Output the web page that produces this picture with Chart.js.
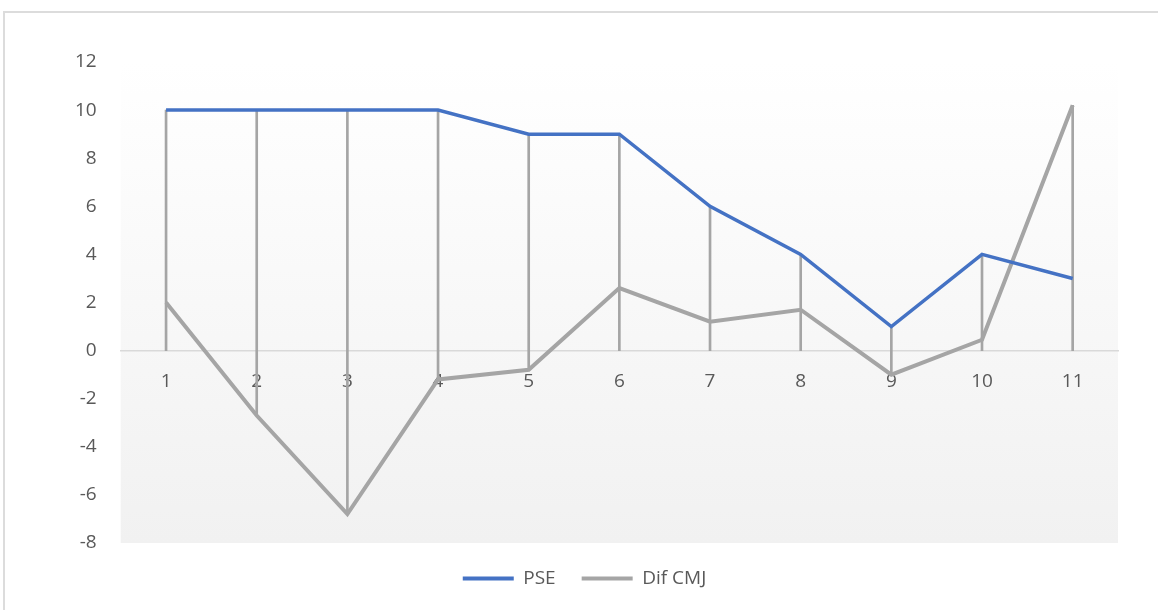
<!DOCTYPE html>
<html>
<head>
<meta charset="utf-8">
<script src="https://cdn.jsdelivr.net/npm/chart.js@4/dist/chart.umd.min.js"></script>
<style>
    html, body { margin: 0; padding: 0; background: #ffffff; overflow: hidden; }
    #frame {
        position: absolute; left: 3px; top: 11px;
        width: 1200px; height: 700px;
        border: 2px solid #dcdcdc; box-sizing: border-box;
    }
    #wrap { position: absolute; left: 0; top: 0; width: 1158px; height: 610px; }
</style>
</head>
<body>
<div id="frame"></div>
<div id="wrap"><canvas id="chart" width="1158" height="610"></canvas></div>
<script>
// Données
const categories = ['1', '2', '3', '4', '5', '6', '7', '8', '9', '10', '11'];
const pse = [10, 10, 10, 10, 9, 9, 6, 4, 1, 4, 3];
const difCmj = [2, -2.7, -6.8, -1.2, -0.8, 2.6, 1.2, 1.7, -1, 0.45, 10.2];
const yTicks = { min: -8, max: 12, step: 2 };

const FONT = "'Open Sans', sans-serif";
const TEXT_COLOR = '#595959';

// Lignes de projection : de chaque point jusqu'à l'axe (valeur 0)
const dropLines = categories.map((c, i) => [
    Math.min(0, pse[i], difCmj[i]),
    Math.max(0, pse[i], difCmj[i])
]);

// Fond dégradé de la zone de traçage
const plotBackground = {
    id: 'plotBackground',
    beforeDraw(chart) {
        const { ctx, chartArea: a } = chart;
        const g = ctx.createLinearGradient(0, a.top, 0, a.bottom);
        g.addColorStop(0, '#ffffff');
        g.addColorStop(1, '#f1f1f1');
        ctx.save();
        ctx.fillStyle = g;
        ctx.fillRect(a.left, a.top, a.right - a.left, a.bottom - a.top);
        ctx.restore();
    }
};

new Chart(document.getElementById('chart'), {
    data: {
        labels: categories,
        datasets: [
            {
                type: 'line',
                label: 'PSE',
                data: pse,
                borderColor: '#4472c4',
                backgroundColor: '#4472c4',
                borderWidth: 3.5,
                pointRadius: 0,
                tension: 0,
                order: 1
            },
            {
                type: 'line',
                label: 'Dif CMJ',
                data: difCmj,
                borderColor: '#a5a5a5',
                backgroundColor: '#a5a5a5',
                borderWidth: 4,
                pointRadius: 0,
                tension: 0,
                order: 2
            },
            {
                type: 'bar',
                label: 'drop',
                data: dropLines,
                backgroundColor: '#a5a5a5',
                borderWidth: 0,
                barThickness: 2,
                order: 3
            }
        ]
    },
    options: {
        responsive: false,
        animation: false,
        layout: { padding: { top: 62, right: 40, bottom: 12, left: 51 } },
        plugins: {
            tooltip: { enabled: false },
            legend: {
                position: 'bottom',
                labels: {
                    boxWidth: 51,
                    boxHeight: 4,
                    padding: 26,
                    color: TEXT_COLOR,
                    font: { family: FONT, size: 19 },
                    filter: item => item.datasetIndex < 2,
                    generateLabels: chart => Chart.defaults.plugins.legend.labels.generateLabels(chart)
                        .map(l => Object.assign(l, { lineWidth: 0 }))
                }
            }
        },
        scales: {
            x: {
                type: 'category',
                position: { y: 0 },
                offset: true,
                grid: { display: false, drawTicks: false },
                border: { display: true, color: '#d9d9d9', width: 1.5 },
                ticks: {
                    color: TEXT_COLOR,
                    padding: 20,
                    maxRotation: 0,
                    font: { family: FONT, size: 19 }
                },
                afterFit: s => { s.height = 0; }
            },
            y: {
                min: yTicks.min,
                max: yTicks.max,
                grid: { display: false, drawTicks: false },
                border: { display: false },
                ticks: {
                    stepSize: yTicks.step,
                    color: TEXT_COLOR,
                    padding: 24,
                    font: { family: FONT, size: 19 }
                }
            }
        }
    },
    plugins: [plotBackground]
});
</script>
</body>
</html>
